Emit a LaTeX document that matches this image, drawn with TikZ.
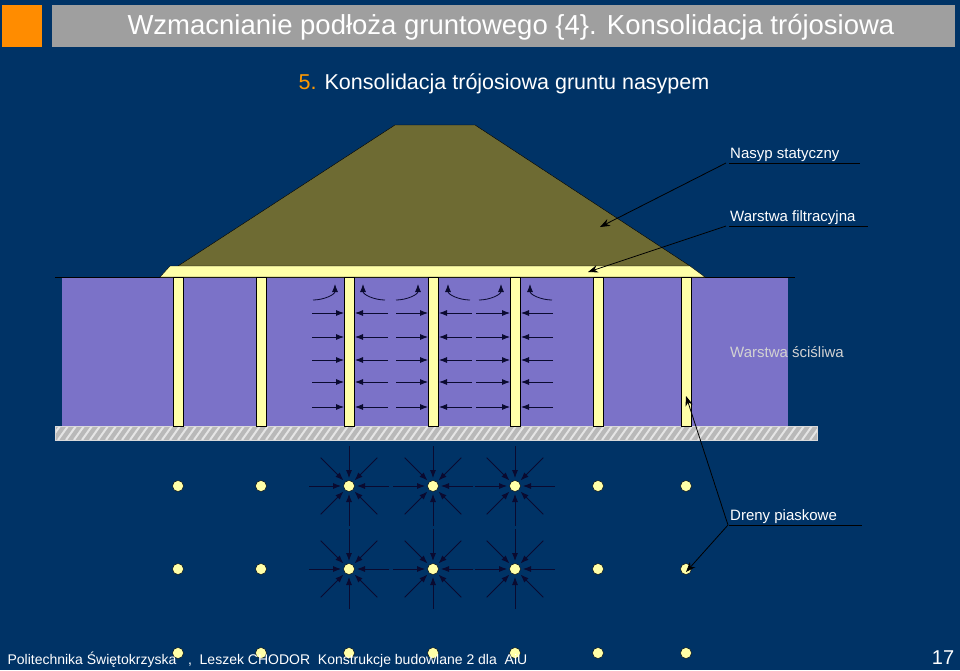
\documentclass[tikz,border=0pt]{standalone}
\usepackage{fontspec}
\setmainfont{Liberation Sans}
\usetikzlibrary{patterns,arrows.meta}
\definecolor{bgblue}{HTML}{003366}
\definecolor{soil}{HTML}{7B72C8}
\definecolor{sand}{HTML}{FFFFA8}
\definecolor{embank}{HTML}{6E6B33}
\definecolor{arrowcol}{HTML}{0A0A30}
\tikzset{
  drain/.style={fill=sand, draw=black, line width=0.4pt},
  dot/.style={circle, fill=sand, draw=black, inner sep=0pt, minimum size=11pt},
  flow/.style={-{Latex[length=8pt,width=6pt]}, arrowcol, line width=0.8pt},
  callout/.style={-{Stealth[length=10pt]}, black, line width=0.8pt},
  lbl/.style={text=white, font=\fontsize{15}{18}\selectfont, anchor=south west, inner sep=1pt}
}
\begin{document}
\begin{tikzpicture}[x=1pt,y=-1pt]
\useasboundingbox (0,0) rectangle (960,670);
\fill[bgblue] (0,0) rectangle (960,670);
% header
\fill[orange!90!yellow] (2,5) rectangle (42,47);
\fill[gray!75] (52,5) rectangle (955,47);
\node[text=white, font=\fontsize{27.5}{31}\selectfont, anchor=west] (title) at (124,27) {Wzmacnianie podłoża gruntowego \{4\}. Konsolidacja trójosiowa};
\node[text=white, font=\fontsize{21.5}{25}\selectfont] (sub) at (504,84) {\textcolor{orange!80!yellow}{5.} Konsolidacja trójosiowa gruntu nasypem};
% soil
\fill[soil] (62,278) rectangle (788,426);
\draw[black, line width=0.4pt] (55,277) -- (795,277);
\fill[gray!55] (55,426) rectangle (817,440);
\begin{scope}
\clip (55,426) rectangle (817,440);
\foreach \x in {50,58,...,820}
  \draw[gray!20, line width=2pt] (\x,440) -- (\x+10,426);
\end{scope}
\draw[gray!30] (55,426) rectangle (817,440);
% embankment and filter layer
\fill[embank] (178,266) -- (395,125) -- (475,125) -- (690,266) -- cycle;
\draw[black] (178,266) -- (395,125) -- (475,125) -- (690,266);
\filldraw[fill=sand, draw=black] (160,277) -- (170,266) -- (690,266) -- (705,277) -- cycle;
% drains
\foreach \x in {178,261,349,433,515,598,686}
  \draw[drain] (\x-5,277) rectangle (\x+5,426);
% horizontal flow
\foreach \y in {313,337,360,382,407} {
  \draw[flow] (312,\y) -- (344,\y);
  \draw[flow] (388,\y) -- (355,\y);
  \draw[flow] (396,\y) -- (428,\y);
  \draw[flow] (472,\y) -- (439,\y);
  \draw[flow] (476,\y) -- (510,\y);
  \draw[flow] (553,\y) -- (521,\y);
}
% upward flow
\foreach \x in {335,418,501} {
  \draw[flow] (\x-22,300) to[out=0,in=-90] (\x,284);
}
\foreach \x in {363,448,530} {
  \draw[flow] (\x+22,300) to[out=180,in=-90] (\x,284);
}
% plan view dots
\foreach \y in {486,569,653}
  \foreach \x in {178,261,598,686}
    \node[dot] at (\x,\y) {};
\foreach \y in {486,569} {
  \foreach \x in {349,433,515} {
    \foreach \a in {0,45,...,315}
      \draw[flow] (\x,\y) ++(\a:40) -- ++(\a+180:32);
    \node[dot] at (\x,\y) {};
  }
}
\foreach \x in {349,433,515}
  \node[dot] at (\x,653) {};
% callouts
\node[lbl] (nasyp) at (729,163) {Nasyp statyczny};
\draw[black] (nasyp.south west) -- (860,163);
\draw[callout] (726,163) -- (600,227);
\node[lbl] (filtr) at (729,226) {Warstwa filtracyjna};
\draw[black] (filtr.south west) -- (868,226);
\draw[callout] (726,226) -- (588,272);
\node[lbl, text=gray!35] (scisl) at (729,359) {Warstwa ściśliwa};
\node[lbl] (dreny) at (729,525) {Dreny piaskowe};
\draw[black] (dreny.south west) -- (862,525);
\draw[callout] (728,525) -- (686,396);
\draw[callout] (728,525) -- (686,572);
% footer
\node[text=white, font=\fontsize{14}{16}\selectfont, anchor=west] (foot) at (4,660) {Politechnika Świętokrzyska \ \ , \ Leszek CHODOR \ Konstrukcje budowlane 2 dla \ AiU};
\node[text=white, font=\fontsize{20}{24}\selectfont] (page) at (943,658) {17};
\end{tikzpicture}
\end{document}
